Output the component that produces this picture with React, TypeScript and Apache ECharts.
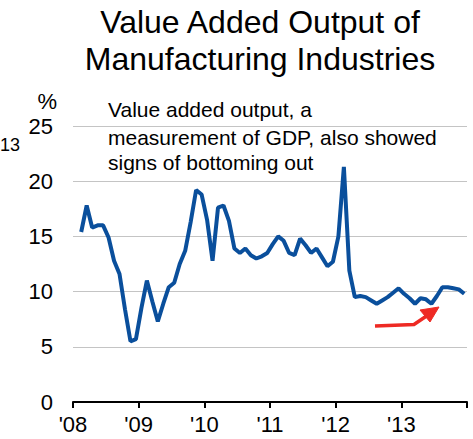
import React, { useEffect, useRef } from "react";
import * as echarts from "echarts";

const titleLines = ["Value Added Output of", "Manufacturing Industries"];
const noteLines = ["Value added output, a", "measurement of GDP, also showed", "signs of bottoming out"];
const yTicks = [0, 5, 10, 15, 20, 25];
const yearLabels = ["'08", "'09", "'10", "'11", "'12", "'13"];
const firstMonthIndex = 1; // Feb 2008 (months counted from Jan 2008)
const values = [
  15.4, 17.8, 15.8, 16.0, 16.0, 14.9, 12.8, 11.6, 8.4, 5.5, 5.7,
  8.5, 11.0, 9.1, 7.3, 8.9, 10.4, 10.8, 12.5, 13.7, 16.3, 19.2, 18.8,
  16.5, 12.8, 17.6, 17.8, 16.4, 13.9, 13.5, 13.9, 13.3, 13.0, 13.2, 13.5,
  14.3, 15.0, 14.6, 13.5, 13.3, 14.8, 14.2, 13.5, 13.9, 13.1, 12.3, 12.7,
  15.0, 21.3, 11.9, 9.5, 9.6, 9.5, 9.2, 8.9, 9.2, 9.5, 9.9, 10.3,
  9.8, 9.4, 8.9, 9.4, 9.3, 8.9, 9.6, 10.4, 10.4, 10.3, 10.2, 9.8,
];

const FONT = "'Liberation Sans', Arial, sans-serif";

export default function App() {
  const ref = useRef<HTMLDivElement>(null);
  useEffect(() => {
    const chart = echarts.init(ref.current!, null, { renderer: "svg" });
    const data = values.map((v, k) => [firstMonthIndex + k + 0.5, v]);
    chart.setOption({
      animation: false,
      backgroundColor: "#ffffff",
      grid: { left: 73, right: 6, top: 126, bottom: 37, containLabel: false },
      xAxis: {
        type: "value",
        min: 0,
        max: yearLabels.length * 12,
        interval: 12,
        axisLine: { show: true, onZero: false, lineStyle: { color: "#000", width: 2 } },
        axisTick: { show: true, length: 6, lineStyle: { color: "#000", width: 2 } },
        splitLine: { show: false },
        axisLabel: {
          fontSize: 22,
          color: "#000",
          fontFamily: FONT,
          margin: 11,
          formatter: (v: number) => yearLabels[Math.round(v / 12)] ?? "",
        },
      },
      yAxis: {
        type: "value",
        min: yTicks[0],
        max: yTicks[yTicks.length - 1],
        interval: 5,
        axisLine: { show: false },
        axisTick: { show: false },
        splitLine: { show: true, lineStyle: { color: "#c4c4c4", width: 1 } },
        axisLabel: { fontSize: 22, color: "#000", fontFamily: FONT, margin: 20 },
      },
      series: [
        {
          type: "line",
          data,
          showSymbol: false,
          symbol: "none",
          lineStyle: { color: "#0a4f9c", width: 4 },
          z: 3,
        },
      ],
      graphic: [
        ...titleLines.map((t, i) => ({
          type: "text",
          x: 260,
          y: 22 + i * 37,
          style: { text: t, fontSize: 32, fontFamily: FONT, fill: "#000", textAlign: "center", textVerticalAlign: "middle" },
        })),
        ...noteLines.map((t, i) => ({
          type: "text",
          x: 108,
          y: [109, 137.5, 162.5][i],
          style: { text: t, fontSize: 21, fontFamily: FONT, fill: "#000", textAlign: "left", textVerticalAlign: "middle" },
          z: 10,
        })),
        {
          type: "text",
          x: 57,
          y: 101,
          style: { text: "%", fontSize: 22, fontFamily: FONT, fill: "#000", textAlign: "right", textVerticalAlign: "middle" },
        },
        {
          type: "text",
          x: 0,
          y: 145,
          style: { text: "13", fontSize: 18, fontFamily: FONT, fill: "#000", textAlign: "left", textVerticalAlign: "middle" },
        },
        {
          type: "polyline",
          shape: { points: [[375, 326], [414, 324.5], [428, 315]] },
          style: { stroke: "#ee2a24", lineWidth: 3.5, fill: null },
          z: 10,
        },
        {
          type: "polygon",
          shape: { points: [[420, 310], [439, 307], [430, 322]] },
          style: { fill: "#ee2a24", stroke: "#ee2a24", lineWidth: 1 },
          z: 10,
        },
      ],
    });
    return () => chart.dispose();
  }, []);
  return <div ref={ref} style={{ width: 473, height: 439, position: "absolute", left: 0, top: 0 }} />;
}
